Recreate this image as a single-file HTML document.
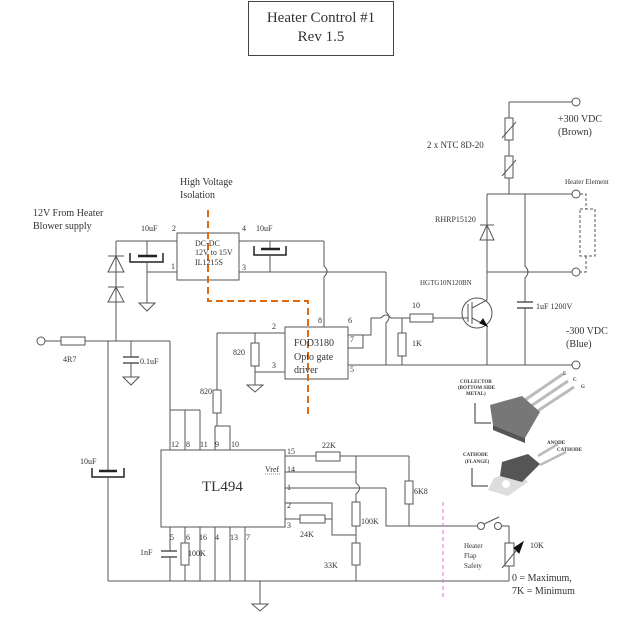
<!DOCTYPE html>
<html><head><meta charset="utf-8"><style>
body{margin:0;background:#fff}
svg{display:block}
text{font-family:"Liberation Serif",serif;fill:#333}
</style></head><body>
<svg width="640" height="619" viewBox="0 0 640 619" xmlns="http://www.w3.org/2000/svg">
<g fill="none" stroke="#555" stroke-width="1">
<!-- title -->
<rect x="248.5" y="1.5" width="145" height="54" stroke="#444"/>
<!-- left supply -->
<circle cx="41" cy="341" r="4"/>
<line x1="45" y1="341" x2="61" y2="341"/>
<rect x="61" y="337" width="24" height="8"/>
<line x1="85" y1="341" x2="170" y2="341"/>
<line x1="116" y1="241" x2="116" y2="341"/>
<line x1="116" y1="241" x2="177" y2="241"/>
<!-- diodes -->
<line x1="108" y1="256" x2="124" y2="256"/><polygon points="116,256 108,272 124,272"/>
<line x1="108" y1="287" x2="124" y2="287"/><polygon points="116,287 108,302 124,302"/>
<!-- 10uF left -->
<line x1="147" y1="241" x2="147" y2="256"/>
<line x1="138" y1="256" x2="157" y2="256" stroke-width="2.5" stroke="#222"/>
<polyline points="130,253 130,262 163,262 163,253" stroke="#222" stroke-width="1.5"/>
<line x1="147" y1="262" x2="147" y2="303"/>
<line x1="147" y1="272" x2="177" y2="272"/>
<polygon points="139,303 155,303 147,311"/>
<!-- DC-DC -->
<rect x="177" y="233" width="62" height="47"/>
<line x1="239" y1="241" x2="324" y2="241"/>
<line x1="239" y1="272" x2="386" y2="272"/>
<line x1="270" y1="241" x2="270" y2="249"/>
<line x1="261" y1="249" x2="280" y2="249" stroke-width="2.5" stroke="#222"/>
<polyline points="254,246 254,255 286,255 286,246" stroke="#222" stroke-width="1.5"/>
<line x1="270" y1="255" x2="270" y2="272"/>
<!-- vertical to pin 8 with hump -->
<path d="M324 241 V266 Q330 271 324 277 V327"/>
<!-- 0.1uF -->
<line x1="131" y1="341" x2="131" y2="357"/>
<line x1="123" y1="357" x2="139" y2="357" stroke-width="1.5"/>
<line x1="123" y1="363" x2="139" y2="363" stroke-width="1.5"/>
<line x1="131" y1="363" x2="131" y2="377"/>
<polygon points="123,377 139,377 131,385"/>
<!-- 10uF big -->
<line x1="108" y1="341" x2="108" y2="471"/>
<line x1="99" y1="471" x2="117" y2="471" stroke-width="2.5" stroke="#222"/>
<polyline points="92,468 92,477 124,477 124,468" stroke="#222" stroke-width="1.5"/>
<line x1="108" y1="477" x2="108" y2="581"/>
<!-- FOD -->
<rect x="285" y="327" width="63" height="52"/>
<line x1="217" y1="333" x2="285" y2="333"/>
<line x1="255" y1="333" x2="255" y2="343"/>
<rect x="251" y="343" width="8" height="23"/>
<line x1="255" y1="366" x2="255" y2="385"/>
<line x1="255" y1="372" x2="285" y2="372"/>
<polygon points="247,385 263,385 255,392"/>
<line x1="217" y1="333" x2="217" y2="390"/>
<rect x="213" y="390" width="8" height="23"/>
<line x1="217" y1="413" x2="217" y2="426"/>
<polyline points="348,335 363,335 363,348 348,348"/>
<polyline points="363,335 371,335 371,318 381,318"/>
<path d="M381 318 Q386 312 391 318 H402"/>
<line x1="348" y1="365" x2="572" y2="365"/>
<circle cx="576" cy="365" r="4"/>
<!-- pin3 15V gnd line to 386 -->
<path d="M386 272 V312 Q392 317 386 323 V365"/>
<!-- gate -->
<line x1="402" y1="318" x2="410" y2="318"/>
<rect x="410" y="314" width="23" height="8"/>
<line x1="433" y1="318" x2="468" y2="318"/>
<line x1="402" y1="318" x2="402" y2="333"/>
<rect x="398" y="333" width="8" height="23"/>
<line x1="402" y1="356" x2="402" y2="365"/>
<!-- transistor -->
<circle cx="477" cy="313" r="15"/>
<line x1="468" y1="304" x2="468" y2="322"/>
<line x1="472" y1="302" x2="472" y2="324"/>
<polyline points="472,308 487,300 487,272"/>
<polyline points="472,318 487,326 487,365"/>
<polygon points="480,323 487,326 483,319" fill="#111" stroke="#111"/>
<!-- +300 -->
<line x1="509" y1="102" x2="572" y2="102"/>
<circle cx="576" cy="102" r="4"/>
<line x1="509" y1="102" x2="509" y2="118"/>
<rect x="505" y="118" width="8" height="22"/>
<line x1="502" y1="138" x2="516" y2="122"/>
<line x1="509" y1="140" x2="509" y2="156"/>
<rect x="505" y="156" width="8" height="22"/>
<line x1="502" y1="176" x2="516" y2="160"/>
<line x1="509" y1="178" x2="509" y2="194"/>
<line x1="487" y1="194" x2="572" y2="194"/>
<circle cx="576" cy="194" r="4"/>
<!-- diode RHRP -->
<line x1="487" y1="194" x2="487" y2="272"/>
<line x1="480" y1="225" x2="494" y2="225"/>
<polygon points="487,225 480,240 494,240"/>
<line x1="487" y1="272" x2="572" y2="272" />
<circle cx="576" cy="272" r="4"/>
<!-- cap 1uF -->
<path d="M525 194 V266 Q531 272 525 278 V302"/>
<line x1="517" y1="302" x2="533" y2="302" stroke-width="1.5"/>
<line x1="517" y1="308" x2="533" y2="308" stroke-width="1.5"/>
<line x1="525" y1="308" x2="525" y2="365"/>
<!-- heater element dashed -->
<g stroke-dasharray="3,2">
<polyline points="580,194 586,194 586,209"/>
<rect x="580" y="209" width="15" height="47"/>
<polyline points="586,256 586,272 580,272"/>
</g>
<!-- TL494 -->
<rect x="161" y="450" width="124" height="77"/>
<line x1="170" y1="341" x2="170" y2="450"/>
<line x1="170" y1="410" x2="200" y2="410"/>
<line x1="185" y1="410" x2="185" y2="450"/>
<line x1="200" y1="410" x2="200" y2="450"/>
<line x1="215" y1="426" x2="215" y2="450"/>
<polyline points="215,426 230,426 230,450"/>
<line x1="170" y1="527" x2="170" y2="551"/>
<line x1="161" y1="551" x2="177" y2="551" stroke-width="1.5"/>
<line x1="161" y1="557" x2="177" y2="557" stroke-width="1.5"/>
<line x1="170" y1="557" x2="170" y2="581"/>
<line x1="185" y1="527" x2="185" y2="543"/>
<rect x="181" y="543" width="8" height="22"/>
<line x1="185" y1="565" x2="185" y2="581"/>
<line x1="200" y1="527" x2="200" y2="581"/>
<line x1="215" y1="527" x2="215" y2="581"/>
<line x1="230" y1="527" x2="230" y2="581"/>
<line x1="245" y1="527" x2="245" y2="581"/>
<line x1="108" y1="581" x2="509" y2="581"/>
<line x1="260" y1="581" x2="260" y2="604"/>
<polygon points="252,604 268,604 260,611"/>
<!-- right side network -->
<line x1="285" y1="456" x2="316" y2="456"/>
<rect x="316" y="452" width="24" height="9"/>
<line x1="340" y1="456" x2="409" y2="456"/>
<line x1="285" y1="472" x2="356" y2="472"/>
<path d="M356 456 V483 Q363 488 356 494 V502"/>
<rect x="352" y="502" width="8" height="24"/>
<line x1="356" y1="526" x2="356" y2="543"/>
<rect x="352" y="543" width="8" height="22"/>
<line x1="356" y1="565" x2="356" y2="581"/>
<line x1="285" y1="488" x2="386" y2="488"/>
<polyline points="386,488 386,526 409,526"/>
<polyline points="285,503 332,503 332,535 356,535"/>
<line x1="285" y1="519" x2="300" y2="519"/>
<rect x="300" y="515" width="25" height="8"/>
<line x1="325" y1="519" x2="332" y2="519"/>
<line x1="409" y1="456" x2="409" y2="481"/>
<rect x="405" y="481" width="8" height="23"/>
<line x1="409" y1="504" x2="409" y2="526"/>
<line x1="409" y1="526" x2="477" y2="526"/>
<circle cx="481" cy="526" r="3.5"/>
<circle cx="498" cy="526" r="3.5"/>
<line x1="484" y1="524" x2="499" y2="517"/>
<polyline points="502,526 509,526 509,543"/>
<rect x="505" y="543" width="9" height="23"/>
<line x1="509" y1="566" x2="509" y2="581"/>
<line x1="502" y1="568" x2="520" y2="546"/>
<polygon points="523,542 514,548 519,553" fill="#111" stroke="#111"/>
</g>
<!-- dashed isolation -->
<polyline points="208,210 208,301 308,301 308,418" fill="none" stroke="#e06a10" stroke-width="2" stroke-dasharray="7,4"/>
<line x1="443" y1="502" x2="443" y2="598" stroke="#e070e0" stroke-width="1" stroke-dasharray="4,3"/>
<!-- device pictures -->
<g>
<line x1="522" y1="402" x2="563" y2="374" stroke="#bbb" stroke-width="3"/>
<line x1="528" y1="408" x2="568" y2="381" stroke="#bbb" stroke-width="3"/>
<line x1="533" y1="414" x2="574" y2="387" stroke="#bbb" stroke-width="3"/>
<polygon points="490,405 522,396 540,412 525,438 493,425" fill="#777"/>
<polygon points="493,425 525,438 525,443 493,430" fill="#555"/>
<line x1="538" y1="456" x2="558" y2="444" stroke="#bbb" stroke-width="2.5"/>
<line x1="540" y1="465" x2="566" y2="452" stroke="#bbb" stroke-width="2.5"/>
<polygon points="494,478 517,470 528,482 508,496 488,490" fill="#ddd"/>
<circle cx="506" cy="484" r="4" fill="#fff"/>
<polygon points="502,462 528,454 540,464 522,482 500,476" fill="#555"/>
<polyline points="475,403 475,423 491,423" fill="none" stroke="#333"/>
<polyline points="472,468 472,486 488,486" fill="none" stroke="#333"/>
</g>
<g style="font-family:'Liberation Sans',sans-serif;font-size:5px;font-weight:bold">
<text x="460" y="383">COLLECTOR</text><text x="458" y="389">(BOTTOM SIDE</text><text x="466" y="395">METAL)</text>
<text x="463" y="456">CATHODE</text><text x="465" y="463">(FLANGE)</text>
<text x="547" y="444">ANODE</text><text x="557" y="451">CATHODE</text>
<text x="563" y="375">E</text><text x="573" y="381">C</text><text x="581" y="388">G</text>
</g>
<!-- labels -->
<text x="321" y="22" font-size="15" text-anchor="middle">Heater Control #1</text>
<text x="321" y="41" font-size="15" text-anchor="middle">Rev 1.5</text>
<g font-size="10">
<text x="180" y="185">High Voltage</text><text x="180" y="198">Isolation</text>
<text x="33" y="216">12V From Heater</text><text x="33" y="229">Blower supply</text>
<text x="141" y="231" font-size="8">10uF</text><text x="256" y="231" font-size="8">10uF</text>
<text x="172" y="231" font-size="8">2</text><text x="242" y="231" font-size="8">4</text>
<text x="171" y="269" font-size="8">1</text><text x="242" y="270" font-size="8">3</text>
<text x="195" y="246" font-size="8">DC-DC</text><text x="195" y="255" font-size="8">12V to 15V</text><text x="195" y="265" font-size="8">IL1215S</text>
<text x="63" y="362" font-size="8">4R7</text>
<text x="140" y="364" font-size="8">0.1uF</text>
<text x="233" y="355" font-size="8">820</text>
<text x="272" y="329" font-size="8">2</text><text x="272" y="368" font-size="8">3</text>
<text x="318" y="323" font-size="8">8</text><text x="348" y="323" font-size="8">6</text><text x="350" y="342" font-size="8">7</text><text x="350" y="372" font-size="8">5</text>
<text x="294" y="346">FOD3180</text><text x="294" y="360">Opto gate</text><text x="294" y="373">driver</text>
<text x="200" y="394" font-size="8">820</text>
<text x="80" y="464" font-size="8">10uF</text>
<text x="427" y="148" font-size="9">2 x NTC 8D-20</text>
<text x="558" y="122">+300 VDC</text><text x="558" y="135">(Brown)</text>
<text x="565" y="184" font-size="7">Heater Element</text>
<text x="435" y="222" font-size="8">RHRP15120</text>
<text x="420" y="285" font-size="7">HGTG10N120BN</text>
<text x="412" y="308" font-size="8">10</text>
<text x="412" y="346" font-size="8">1K</text>
<text x="536" y="309" font-size="8">1uF 1200V</text>
<text x="566" y="334">-300 VDC</text><text x="566" y="347">(Blue)</text>
<text x="202" y="491" font-size="15" fill="#222">TL494</text>
<g font-size="8">
<text x="171" y="447">12</text><text x="186" y="447">8</text><text x="200" y="447">11</text><text x="215" y="447">9</text><text x="231" y="447">10</text>
<text x="170" y="540">5</text><text x="186" y="540">6</text><text x="199" y="540">16</text><text x="215" y="540">4</text><text x="230" y="540">13</text><text x="246" y="540">7</text>
<text x="287" y="454">15</text><text x="265" y="472">Vref</text><text x="287" y="472">14</text><text x="287" y="490">1</text><text x="287" y="508">2</text><text x="287" y="528">3</text>
<text x="140" y="555">1nF</text><text x="188" y="556">100K</text>
<text x="322" y="448">22K</text><text x="300" y="537">24K</text><text x="324" y="568">33K</text>
<text x="361" y="524">100K</text><text x="414" y="494">6K8</text>
<text x="464" y="548" font-size="7">Heater</text><text x="464" y="558" font-size="7">Flap</text><text x="464" y="568" font-size="7">Safety</text>
<text x="530" y="548">10K</text>
</g>
<text x="512" y="581">0 = Maximum,</text><text x="512" y="594">7K = Minimum</text>
</g>
<line x1="265" y1="474" x2="281" y2="474" stroke="#d33" stroke-width="0.8" stroke-dasharray="1,1"/>
</svg>
</body></html>
